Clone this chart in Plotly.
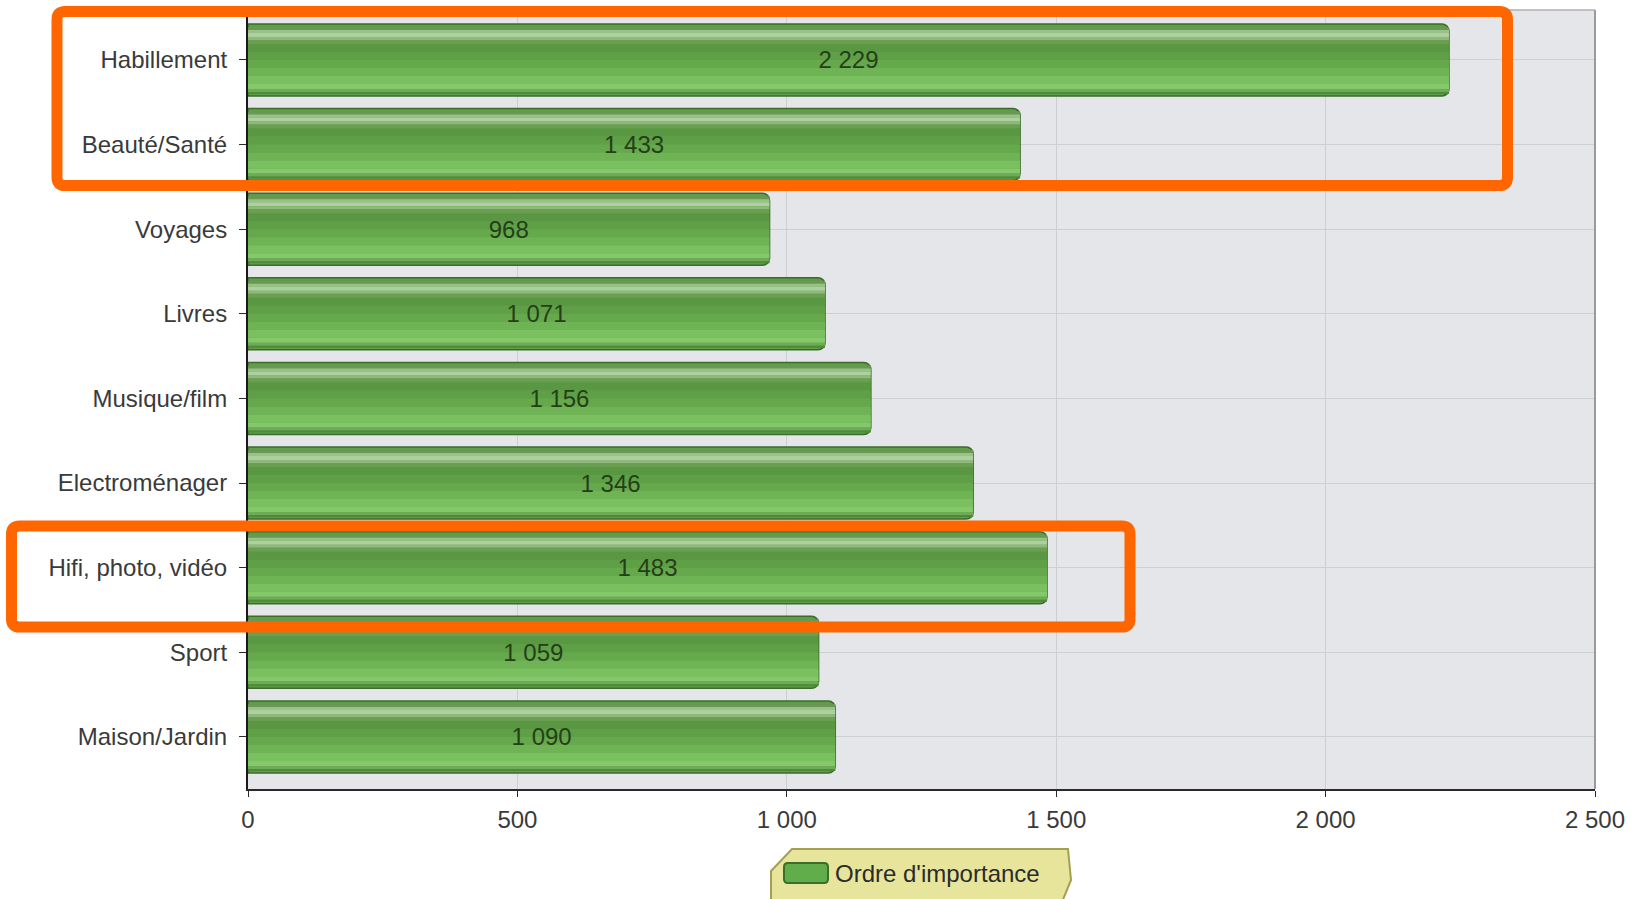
import plotly.graph_objects as go

categories = ["Habillement", "Beauté/Santé", "Voyages", "Livres", "Musique/film",
              "Electroménager", "Hifi, photo, vidéo", "Sport", "Maison/Jardin"]
values = [2229, 1433, 968, 1071, 1156, 1346, 1483, 1059, 1090]
series_name = "Ordre d'importance"
tick_vals = [0, 500, 1000, 1500, 2000, 2500]
tick_text = ["0", "500", "1 000", "1 500", "2 000", "2 500"]

labels = [f"{v:,}".replace(",", " ") for v in values]

W, H = 1634, 899
L, R, T, B = 248, 39, 10, 110
PW, PH = W - L - R, H - T - B
BAND = 84.6
BAR_PX = 72
bar_w = BAR_PX / BAND
bar_off = -bar_w / 2
FONT = "Liberation Sans, Arial, sans-serif"

fig = go.Figure()

# base bar
fig.add_trace(go.Bar(
    x=values, y=categories, orientation="h", name=series_name,
    width=bar_w, offset=bar_off,
    marker=dict(color="#5d9f46", line=dict(color="#3d6b2c", width=1.5), cornerradius=7),
    hoverinfo="skip", showlegend=False))

# glossy strips
strips = [
    (3, 6, "#6a9656"), (6, 9, "#98c287"), (9, 13, "#aed09f"), (13, 16, "#8fb87c"),
    (16, 20, "#6a9f52"), (20, 28, "#5a9742"), (28, 36, "#5f9f46"), (36, 44, "#66a84c"),
    (44, 52, "#6eb454"), (52, 60, "#7ac060"), (60, 65, "#84c969"), (65, 68, "#6faa57"),
    (68, 70, "#4f8a3a"),
]
for s, e, c in strips:
    fig.add_trace(go.Bar(
        x=values, y=categories, orientation="h",
        width=(e - s) / BAND, offset=bar_off + s / BAND,
        marker=dict(color=c, line=dict(width=0)),
        hoverinfo="skip", showlegend=False))

# value labels (also carries the legend entry)
fig.add_trace(go.Bar(
    x=values, y=categories, orientation="h", name=series_name,
    width=bar_w, offset=bar_off,
    marker=dict(color="rgba(0,0,0,0)", line=dict(width=0)),
    text=labels, textposition="inside", insidetextanchor="middle",
    constraintext="none", textangle=0,
    textfont=dict(family=FONT, size=24, color="#243f18"),
    hoverinfo="skip", showlegend=True))

def px_x(p):
    return (p - L) / PW

def px_y(p):
    return (T + PH - p) / PH

def path_px(points):
    parts = []
    for i, (x, y) in enumerate(points):
        parts.append(("M" if i == 0 else "L") + f"{px_x(x):.5f},{px_y(y):.5f}")
    return " ".join(parts) + " Z"

def rounded_rect_px(x0, y0, x1, y1, r):
    pts = []
    segs = [
        f"M{px_x(x0 + r):.5f},{px_y(y0):.5f}",
        f"L{px_x(x1 - r):.5f},{px_y(y0):.5f}",
        f"Q{px_x(x1):.5f},{px_y(y0):.5f} {px_x(x1):.5f},{px_y(y0 + r):.5f}",
        f"L{px_x(x1):.5f},{px_y(y1 - r):.5f}",
        f"Q{px_x(x1):.5f},{px_y(y1):.5f} {px_x(x1 - r):.5f},{px_y(y1):.5f}",
        f"L{px_x(x0 + r):.5f},{px_y(y1):.5f}",
        f"Q{px_x(x0):.5f},{px_y(y1):.5f} {px_x(x0):.5f},{px_y(y1 - r):.5f}",
        f"L{px_x(x0):.5f},{px_y(y0 + r):.5f}",
        f"Q{px_x(x0):.5f},{px_y(y0):.5f} {px_x(x0 + r):.5f},{px_y(y0):.5f}",
        "Z",
    ]
    return " ".join(segs)

shapes = [
    dict(type="line", xref="paper", yref="paper", x0=0, x1=1, y0=1, y1=1,
         line=dict(color="#b0b0b0", width=1.5), layer="above"),
    dict(type="line", xref="paper", yref="paper", x0=1, x1=1, y0=0, y1=1,
         line=dict(color="#9a9a9a", width=2), layer="above"),
    dict(type="path", xref="paper", yref="paper",
         path=rounded_rect_px(57, 11.5, 1507.5, 185.5, 8),
         line=dict(color="#ff6600", width=11), layer="above"),
    dict(type="path", xref="paper", yref="paper",
         path=rounded_rect_px(11.5, 526, 1130, 627, 8),
         line=dict(color="#ff6600", width=11), layer="above"),
    # legend background (bevelled box)
    dict(type="path", xref="paper", yref="paper",
         path=path_px([(771, 902), (771, 871), (792, 849), (1068, 849), (1071, 880), (1062, 902)]),
         fillcolor="#e7e49c", line=dict(color="#a59f55", width=2), layer="above"),
    # legend symbol
    dict(type="path", xref="paper", yref="paper",
         path=rounded_rect_px(784, 863, 828, 883, 4),
         fillcolor="#62ad4b", line=dict(color="#3a6e2a", width=2), layer="above"),
]

fig.update_layout(
    width=W, height=H,
    margin=dict(l=L, r=R, t=T, b=B, pad=0, autoexpand=False),
    paper_bgcolor="white", plot_bgcolor="#e4e6e9",
    barmode="overlay",
    font=dict(family=FONT, size=24, color="#333333"),
    xaxis=dict(range=[0, 2500], tickvals=tick_vals, ticktext=tick_text,
               showgrid=True, gridcolor="#cdd0d3", gridwidth=1,
               zeroline=False, showline=True, linecolor="#2a2a2a", linewidth=2,
               ticks="outside", ticklen=6, tickcolor="#2a2a2a",
               ticklabelstandoff=2, automargin=False,
               tickfont=dict(family=FONT, size=24, color="#3a3a3a"), fixedrange=True),
    yaxis=dict(type="category", categoryorder="array", categoryarray=categories,
               range=[8.615, -0.59],
               showgrid=True, gridcolor="#cdd0d3", gridwidth=1,
               zeroline=False, showline=True, linecolor="#1a1a1a", linewidth=2,
               ticks="outside", ticklen=7, tickcolor="#2a2a2a",
               ticklabelstandoff=7, automargin=False,
               tickfont=dict(family=FONT, size=24, color="#3a3a3a"), fixedrange=True),
    legend=dict(orientation="h", x=px_x(795), xanchor="left",
                y=px_y(873), yanchor="middle",
                bgcolor="rgba(0,0,0,0)", borderwidth=0,
                font=dict(family=FONT, size=24, color="#2b2b2b")),
    shapes=shapes,
    showlegend=True,
)

fig.write_html("out.html")
